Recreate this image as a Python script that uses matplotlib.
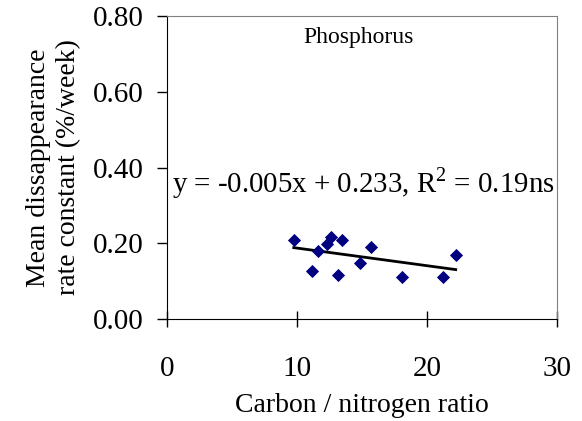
import numpy as np
import matplotlib
matplotlib.use("Agg")
import matplotlib.pyplot as plt

cn_ratio = [9.75, 11.16, 11.59, 12.31, 12.59, 13.18, 13.43, 14.84, 15.71, 18.11, 21.21, 22.21]
rate_const = [0.210, 0.128, 0.181, 0.198, 0.216, 0.117, 0.210, 0.148, 0.191, 0.111, 0.111, 0.168]
xticks = [0, 10, 20, 30]
yticks = [0.0, 0.2, 0.4, 0.6, 0.8]
ytick_labels = ["0.00", "0.20", "0.40", "0.60", "0.80"]

plt.rcParams['font.family'] = ['Liberation Serif', 'DejaVu Serif']
plt.rcParams['mathtext.fontset'] = 'custom'
plt.rcParams['mathtext.rm'] = 'Liberation Serif'

fig = plt.figure(figsize=(5.82, 4.21), dpi=100)
ax = fig.add_axes([0.287, 0.242, 0.670, 0.720])

ax.scatter(cn_ratio, rate_const, marker='D', s=45, color='#000080', zorder=3, linewidths=0)
slope, intercept = np.polyfit(cn_ratio, rate_const, 1)
xs = np.array([min(cn_ratio), max(cn_ratio)])
ax.plot(xs, slope * xs + intercept, color='black', lw=2, zorder=2)

ax.set_xlim(0, 30)
ax.set_ylim(0, 0.8)
ax.set_xticks(xticks)
ax.set_yticks(yticks)
ax.set_yticklabels(ytick_labels)
ax.tick_params(axis='x', direction='inout', length=11, width=1, pad=21, labelsize=21)
ax.tick_params(axis='y', direction='out', length=7, width=1, pad=10, labelsize=21)
for s in ['top', 'right']:
    ax.spines[s].set_color('#808080')
for s in ['left', 'bottom']:
    ax.spines[s].set_color('black')

ax.set_xlabel("Carbon / nitrogen ratio", fontsize=20, labelpad=8)
ax.set_ylabel("Mean dissappearance\nrate constant (%/week)", fontsize=20, labelpad=8, linespacing=1.3)

ax.text(0.49, 0.93, "Phosphorus", transform=ax.transAxes, ha='center', va='center', fontsize=17)
ax.text(0.012, 0.45, r"y = -0.005x + 0.233, R$^{\mathrm{2}}$ = 0.19ns", transform=ax.transAxes,
        ha='left', va='center', fontsize=20.8)

fig.savefig("out.png", dpi=100)
